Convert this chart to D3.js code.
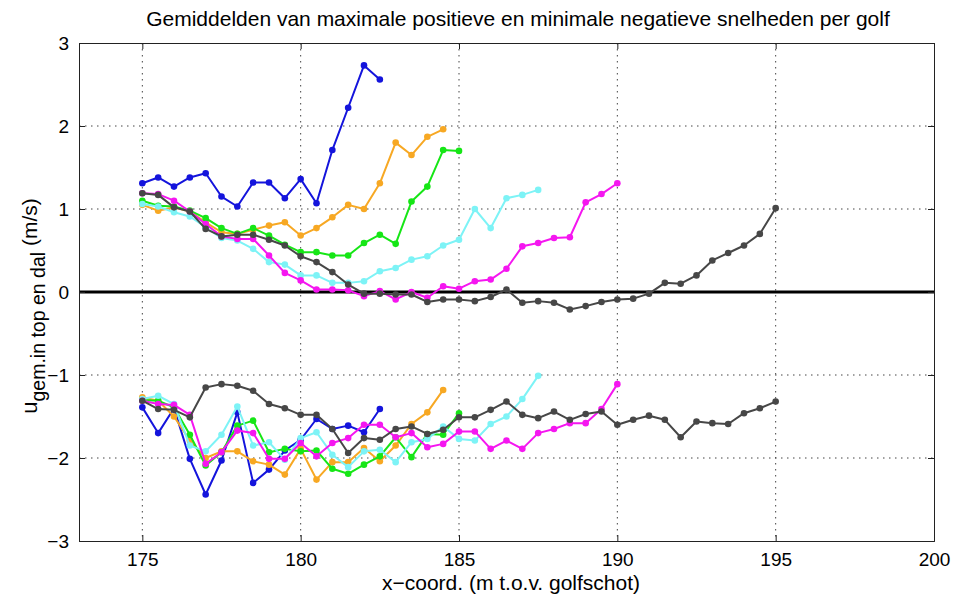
<!DOCTYPE html>
<html>
<head>
<meta charset="utf-8">
<script src="https://cdn.jsdelivr.net/npm/d3@7"></script>
<style>
    html, body { margin: 0; padding: 0; background: #fff; }
    svg { display: block; font-family: 'Liberation Sans', Arial, sans-serif; }
</style>
</head>
<body>
<div id="chartWrap"></div>
<script>
'use strict'
// x positions of the measurements (m t.o.v. golfschot)
const xPos = [175, 175.5, 176, 176.5, 177, 177.5, 178, 178.5, 179, 179.5,
    180, 180.5, 181, 181.5, 182, 182.5, 183, 183.5, 184, 184.5,
    185, 185.5, 186, 186.5, 187, 187.5, 188, 188.5, 189, 189.5,
    190, 190.5, 191, 191.5, 192, 192.5, 193, 193.5, 194, 194.5, 195];

// maximale positieve snelheden (top)
const blueTop = [1.31, 1.38, 1.27, 1.38, 1.43, 1.15, 1.03, 1.32, 1.32, 1.13, 1.36, 1.07, 1.71, 2.22, 2.73, 2.56];
const orangeTop = [1.05, 0.98, 1.02, 0.97, 0.84, 0.72, 0.70, 0.75, 0.80, 0.84, 0.68, 0.77, 0.90, 1.05, 1.00, 1.31, 1.80, 1.65, 1.87, 1.96];
const greenTop = [1.10, 1.04, 1.03, 0.98, 0.89, 0.77, 0.70, 0.77, 0.68, 0.57, 0.48, 0.48, 0.44, 0.44, 0.59, 0.69, 0.58, 1.09, 1.27, 1.71, 1.70];
const cyanTop = [1.06, 1.03, 0.96, 0.91, 0.78, 0.65, 0.62, 0.52, 0.36, 0.33, 0.20, 0.20, 0.11, 0.11, 0.13, 0.25, 0.29, 0.39, 0.43, 0.56, 0.63, 1.00, 0.77, 1.13, 1.17, 1.23];
const magentaTop = [1.19, 1.18, 1.10, 0.97, 0.82, 0.67, 0.64, 0.64, 0.44, 0.23, 0.14, 0.03, 0.03, 0.02, -0.05, 0.01, -0.09, 0.00, -0.07, 0.07, 0.04, 0.13, 0.15, 0.28, 0.55, 0.59, 0.65, 0.66, 1.08, 1.18, 1.31];
const greyTop = [1.19, 1.17, 1.02, 0.97, 0.76, 0.67, 0.69, 0.69, 0.63, 0.56, 0.43, 0.36, 0.24, 0.09, -0.02, -0.02, -0.03, -0.03, -0.12, -0.09, -0.09, -0.11, -0.06, 0.03, -0.13, -0.11, -0.13, -0.21, -0.17, -0.12, -0.09, -0.08, -0.02, 0.11, 0.10, 0.20, 0.38, 0.47, 0.56, 0.70, 1.01];

// minimale negatieve snelheden (dal)
const blueBottom = [-1.39, -1.70, -1.40, -2.01, -2.44, -2.03, -1.45, -2.30, -2.14, -1.91, -1.78, -1.53, -1.65, -1.61, -1.69, -1.41];
const orangeBottom = [-1.27, -1.31, -1.50, -1.79, -2.00, -1.92, -1.92, -2.04, -2.08, -2.20, -1.89, -2.26, -2.05, -2.05, -1.88, -2.04, -1.85, -1.59, -1.45, -1.18];
const greenBottom = [-1.30, -1.31, -1.39, -1.72, -2.09, -1.93, -1.61, -1.55, -1.93, -1.89, -1.92, -1.91, -2.13, -2.19, -2.08, -1.98, -1.75, -1.99, -1.71, -1.72, -1.46];
const cyanBottom = [-1.29, -1.25, -1.35, -1.85, -1.92, -1.72, -1.38, -1.85, -1.81, -2.02, -1.76, -1.69, -1.96, -2.11, -1.92, -1.90, -2.05, -1.81, -1.77, -1.62, -1.77, -1.79, -1.59, -1.50, -1.29, -1.01];
const magentaBottom = [-1.31, -1.35, -1.36, -1.48, -2.07, -1.93, -1.67, -1.70, -2.01, -2.01, -1.82, -1.98, -1.82, -1.76, -1.60, -1.60, -1.75, -1.70, -1.87, -1.83, -1.68, -1.68, -1.89, -1.79, -1.89, -1.70, -1.65, -1.58, -1.58, -1.41, -1.11];
const greyBottom = [-1.31, -1.41, -1.42, -1.51, -1.15, -1.11, -1.13, -1.19, -1.35, -1.40, -1.48, -1.48, -1.65, -1.94, -1.76, -1.78, -1.65, -1.62, -1.71, -1.66, -1.51, -1.51, -1.42, -1.32, -1.48, -1.52, -1.44, -1.54, -1.47, -1.44, -1.60, -1.54, -1.49, -1.54, -1.75, -1.56, -1.58, -1.59, -1.46, -1.40, -1.32];

const xTicks = [175, 180, 185, 190, 195, 200];
const yTicks = [-3, -2, -1, 0, 1, 2, 3];

const titleText = 'Gemiddelden van maximale positieve en minimale negatieve snelheden per golf';
const xLabelText = 'x\u2212coord. (m t.o.v. golfschot)';

window.addEventListener('DOMContentLoaded', function(event) {
    //#region settings
    let svgWidth = 956,
        svgHeight = 597,
        margin = { top: 43, right: 22, bottom: 56, left: 79 },
        chartWidth = svgWidth - margin.left - margin.right,
        chartHeight = svgHeight - margin.top - margin.bottom;

    const series = [
        { color: '#1414dc', values: blueTop },
        { color: '#f7a823', values: orangeTop },
        { color: '#16e616', values: greenTop },
        { color: '#7df3f6', values: cyanTop },
        { color: '#f516f0', values: magentaTop },
        { color: '#474747', values: greyTop },
        { color: '#1414dc', values: blueBottom },
        { color: '#f7a823', values: orangeBottom },
        { color: '#16e616', values: greenBottom },
        { color: '#7df3f6', values: cyanBottom },
        { color: '#f516f0', values: magentaBottom },
        { color: '#474747', values: greyBottom }
    ];
    //#endregion settings

    let svg = d3.select('#chartWrap')
        .append('svg')
        .attr('width', svgWidth)
        .attr('height', svgHeight);

    let mainContainer = svg.append('g')
        .attr('transform', `translate(${margin.left},${margin.top})`);

    const xScale = d3.scaleLinear().domain([173, 200]).range([0, chartWidth]);
    const yScale = d3.scaleLinear().domain([-3, 3]).range([chartHeight, 0]);

    //#region grid
    mainContainer.append('g')
        .selectAll('line')
        .data(xTicks.filter(d => d < 200))
        .join('line')
            .attr('x1', d => xScale(d)).attr('x2', d => xScale(d))
            .attr('y1', 0).attr('y2', chartHeight)
            .attr('stroke', '#444')
            .attr('stroke-width', 1)
            .attr('stroke-dasharray', '1.5,4.5');

    mainContainer.append('g')
        .selectAll('line')
        .data(yTicks.filter(d => d > -3 && d < 3 && d !== 0))
        .join('line')
            .attr('x1', 0).attr('x2', chartWidth)
            .attr('y1', d => yScale(d)).attr('y2', d => yScale(d))
            .attr('stroke', '#444')
            .attr('stroke-width', 1)
            .attr('stroke-dasharray', '1.5,4.5');
    //#endregion grid

    // zero line
    mainContainer.append('line')
        .attr('x1', 0).attr('x2', chartWidth)
        .attr('y1', yScale(0)).attr('y2', yScale(0))
        .attr('stroke', '#000')
        .attr('stroke-width', 3);

    //#region lines + markers
    const line = d3.line()
        .x((d, i) => xScale(xPos[i]))
        .y(d => yScale(d));

    series.forEach(s => {
        mainContainer.append('path')
            .datum(s.values)
            .attr('d', line)
            .attr('fill', 'none')
            .attr('stroke', s.color)
            .attr('stroke-width', 2)
            .attr('stroke-linejoin', 'round');

        mainContainer.append('g')
            .selectAll('circle')
            .data(s.values)
            .join('circle')
                .attr('cx', (d, i) => xScale(xPos[i]))
                .attr('cy', d => yScale(d))
                .attr('r', 3.3)
                .attr('fill', s.color);
    });
    //#endregion lines + markers

    //#region axes (matlab style box, ticks inward)
    const tickLen = 6;
    const xAxisBottom = mainContainer.append('g')
        .attr('transform', `translate(0,${chartHeight})`)
        .call(d3.axisBottom(xScale).tickValues(xTicks).tickSize(-tickLen).tickPadding(12).tickFormat(d3.format('d')));
    const xAxisTop = mainContainer.append('g')
        .call(d3.axisTop(xScale).tickValues(xTicks).tickSize(-tickLen).tickFormat(''));
    const yAxisLeft = mainContainer.append('g')
        .call(d3.axisLeft(yScale).tickValues(yTicks).tickSize(-tickLen).tickPadding(10)
            .tickFormat(d => d < 0 ? '\u2212' + Math.abs(d) : d));
    const yAxisRight = mainContainer.append('g')
        .attr('transform', `translate(${chartWidth},0)`)
        .call(d3.axisRight(yScale).tickValues(yTicks).tickSize(-tickLen).tickFormat(''));

    [xAxisBottom, xAxisTop, yAxisLeft, yAxisRight].forEach(a => {
        a.select('.domain').attr('stroke', '#222').attr('stroke-width', 1);
        a.selectAll('.tick line').attr('stroke', '#222');
        a.selectAll('.tick text')
            .attr('fill', '#000')
            .attr('font-size', 19)
            .attr('font-family', "'Liberation Sans', Arial, sans-serif");
    });
    yAxisLeft.selectAll('.tick text').attr('dy', '0.36em');
    //#endregion axes

    //#region titles
    svg.append('text')
        .attr('x', 518)
        .attr('y', 26)
        .attr('text-anchor', 'middle')
        .attr('font-size', 21)
        .attr('fill', '#000')
        .text(titleText);

    svg.append('text')
        .attr('x', 511)
        .attr('y', 590)
        .attr('text-anchor', 'middle')
        .attr('font-size', 21)
        .attr('fill', '#000')
        .text(xLabelText);

    const yLabel = svg.append('text')
        .attr('transform', 'translate(37,306) rotate(-90)')
        .attr('text-anchor', 'middle')
        .attr('fill', '#000');
    yLabel.append('tspan').attr('font-size', 22).text('u');
    yLabel.append('tspan').attr('font-size', 19.5).attr('dy', 8).text('gem.in top en dal');
    yLabel.append('tspan').attr('font-size', 21).attr('dy', -8).text('\u00a0(m/s)');
    //#endregion titles
});
</script>
</body>
</html>
